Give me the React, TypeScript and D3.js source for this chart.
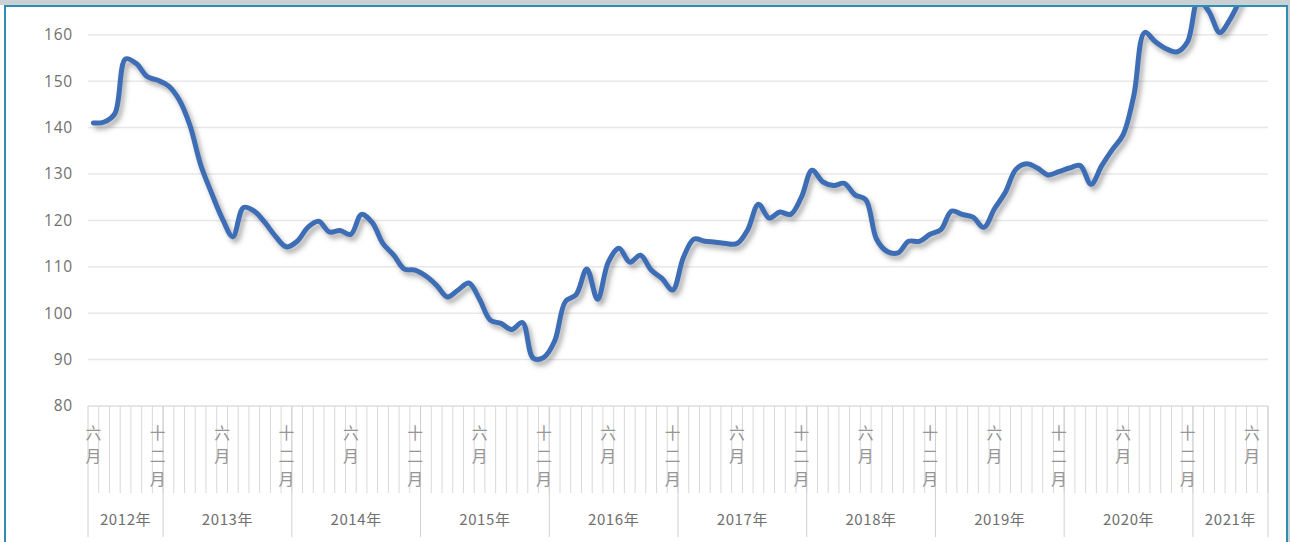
import React from "react";
import * as d3 from "d3";

// Monthly index values
const years = [2012, 2013, 2014, 2015, 2016, 2017, 2018, 2019, 2020, 2021];
const startMonths = [6, 1, 1, 1, 1, 1, 1, 1, 1, 1];
const values2012 = [141, 141.2, 143, 154.8, 153.8, 151, 150.2];
const values2013 = [149, 146, 140.5, 132, 126, 120.5, 116.5, 122.8, 122, 119.5, 116.5, 114.3];
const values2014 = [115.5, 118.5, 119.8, 117.5, 117.8, 117, 121.3, 119.5, 115, 112.5, 109.5, 109.3];
const values2015 = [108, 106, 103.5, 105, 106.5, 103, 98.5, 97.8, 96.5, 98, 90.3, 90.5];
const values2016 = [94, 102.5, 104, 109.5, 103, 111, 114, 111, 112.5, 109.3, 107.5, 105];
const values2017 = [112, 116, 115.5, 115.3, 115, 115, 118, 123.5, 120.5, 121.8, 121.3, 125];
const values2018 = [130.8, 128.3, 127.5, 128, 125.5, 124.5, 116, 113.3, 113, 115.5, 115.5, 117];
const values2019 = [118, 122, 121.3, 120.7, 118.5, 122.5, 126, 131, 132.2, 131.3, 129.8, 130.5];
const values2020 = [131.3, 131.8, 127.8, 131.8, 135.3, 138.5, 147, 160.5, 158.5, 157, 156.3, 158.5];
const values2021 = [167.5, 165, 160.5, 163.5, 168, 172, 175];
const yearValues = [values2012, values2013, values2014, values2015, values2016, values2017, values2018, values2019, values2020, values2021];

const yTicks = [80, 90, 100, 110, 120, 130, 140, 150, 160];
const monthLabelMap: Record<number, string> = { 6: "六月", 12: "十二月" };

type Pt = { i: number; year: number; month: number; v: number };
const points: Pt[] = [];
yearValues.forEach((arr, yi) => {
  arr.forEach((v, k) => {
    points.push({ i: points.length, year: years[yi], month: startMonths[yi] + k, v });
  });
});

const W = 1290;
const H = 542;
const left = 88;
const right = 1268;
const axisY = 406;

export default function App() {
  React.useEffect(() => {
    document.body.style.margin = "0";
  }, []);

  const x = d3
    .scaleBand<number>()
    .domain(points.map((p) => p.i))
    .range([left, right])
    .padding(0);
  const bw = x.bandwidth();
  const y = d3.scaleLinear().domain([80, 170]).range([axisY, axisY - 9 * 46.4]);

  const line = d3
    .line<Pt>()
    .x((p) => (x(p.i) as number) + bw / 2)
    .y((p) => y(p.v))
    .curve(d3.curveCatmullRom.alpha(0.5));

  const spans: { year: number; x0: number; x1: number }[] = [];
  let idx = 0;
  yearValues.forEach((arr, yi) => {
    const x0 = x(idx) as number;
    const x1 = (x(idx + arr.length - 1) as number) + bw;
    spans.push({ year: years[yi], x0, x1 });
    idx += arr.length;
  });

  const cjk = "'Noto Sans CJK SC', 'Noto Sans CJK JP', sans-serif";

  return (
    <div style={{ position: "absolute", left: 0, top: 0 }}>
      <svg width={W} height={H} style={{ display: "block" }}>
        <defs>
          <clipPath id="plotClip">
            <rect x={left - 5} y={7} width={right - left + 10} height={axisY - 7} />
          </clipPath>
          <filter id="shadow" x="-5%" y="-20%" width="110%" height="140%">
            <feDropShadow dx={3} dy={4} stdDeviation={2.5} floodColor="#555" floodOpacity={0.5} />
          </filter>
        </defs>
        <rect x={0} y={0} width={W} height={H} fill="#ffffff" />
        <rect x={0} y={0} width={W} height={5} fill="#c9d1d5" />
        <rect x={4} y={5} width={W - 6} height={2} fill="#2f8db1" />
        <rect x={4} y={5} width={2} height={H - 5} fill="#2f8db1" />
        <rect x={1286} y={5} width={2} height={H - 5} fill="#2f8db1" />
        <rect x={1288} y={0} width={2} height={H} fill="#c9d1d5" />

        {yTicks.slice(1).map((t) => (
          <line key={t} x1={left} x2={right} y1={y(t)} y2={y(t)} stroke="#e8e8e8" strokeWidth={1.5} />
        ))}
        {yTicks.map((t) => (
          <text
            key={t}
            x={73}
            y={y(t)}
            dy="0.35em"
            textAnchor="end"
            fontFamily="'Open Sans', 'Liberation Sans', sans-serif"
            fontSize={15.5}
            letterSpacing={0.8}
            fill="#707070"
          >
            {t}
          </text>
        ))}

        <line x1={left} x2={right} y1={axisY} y2={axisY} stroke="#cfcfcf" strokeWidth={1.2} />
        {points.map((p) => (
          <line
            key={"m" + p.i}
            x1={(x(p.i) as number) + bw}
            x2={(x(p.i) as number) + bw}
            y1={axisY}
            y2={493}
            stroke="#d8d8d8"
            strokeWidth={1}
          />
        ))}
        {spans.map((s, k) => (
          <g key={"yb" + k}>
            {k === 0 && <line x1={s.x0} x2={s.x0} y1={axisY} y2={537} stroke="#d0d0d0" strokeWidth={1} />}
            <line x1={s.x1} x2={s.x1} y1={axisY} y2={537} stroke="#d0d0d0" strokeWidth={1} />
          </g>
        ))}
        {points
          .filter((p) => monthLabelMap[p.month])
          .map((p) => {
            const chars = Array.from(monthLabelMap[p.month]);
            const cx = (x(p.i) as number) + bw / 2;
            return (
              <g key={"ml" + p.i}>
                {chars.map((c, ci) => (
                  <text
                    key={ci}
                    x={cx}
                    y={433 + ci * 23}
                    dy="0.35em"
                    textAnchor="middle"
                    fontFamily={cjk}
                    fontSize={15.8}
                    fill="#959595"
                  >
                    {c}
                  </text>
                ))}
              </g>
            );
          })}
        {spans.map((s) => (
          <text
            key={"yl" + s.year}
            x={(s.x0 + s.x1) / 2}
            y={520}
            dy="0.35em"
            textAnchor="middle"
            fontFamily={cjk}
            fontSize={15}
            letterSpacing={0.6}
            fill="#707070"
          >
            {s.year + "年"}
          </text>
        ))}

        <g clipPath="url(#plotClip)">
          <path
            d={line(points) || ""}
            fill="none"
            stroke="#3e6db4"
            strokeWidth={5}
            strokeLinejoin="round"
            strokeLinecap="round"
            filter="url(#shadow)"
          />
        </g>
      </svg>
    </div>
  );
}
